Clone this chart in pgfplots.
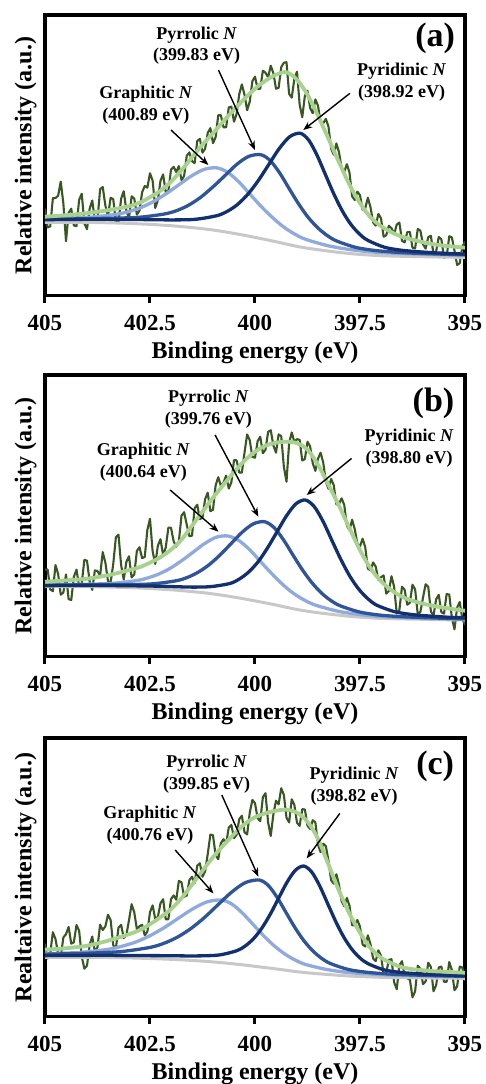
\documentclass[border=0pt]{standalone}
\usepackage{pgfplots}
\pgfplotsset{compat=1.18}
\usepackage{fontspec}
\setmainfont{Liberation Serif}
\usetikzlibrary{arrows.meta}
\definecolor{dgreen}{HTML}{385723}
\definecolor{lgreen}{HTML}{A9D18E}
\definecolor{navy}{HTML}{13306E}
\definecolor{mblue}{HTML}{2F5597}
\definecolor{lblue}{HTML}{8FAADC}
\definecolor{bggray}{HTML}{C8C8C8}
\tikzset{
  ann/.style={font=\bfseries\fontsize{18}{21.7}\selectfont, align=center},
  arr/.style={-{Stealth[length=9pt,width=7pt]}, line width=1.4pt, black},
}
\pgfplotsset{xps/.style={
  scale only axis, width=420pt,
  xmin=395, xmax=405, x dir=reverse, ymin=0,
  xtick={395,397.5,400,402.5,405},
  xticklabels={395,397.5,400,402.5,405},
  ytick=\empty, xtick pos=left, tick align=outside,
  major tick length=7pt,
  axis line style={line width=3.5pt},
  every tick/.style={black, line width=3pt},
  xticklabel style={font=\bfseries\fontsize{23}{27}\selectfont, anchor=center, yshift=-20pt},
  xlabel={Binding energy (eV)},
  xlabel style={font=\bfseries\fontsize{24}{28}\selectfont, at={(axis description cs:0.5,0)}, anchor=center, yshift=-57pt},
  ylabel style={font=\bfseries\fontsize{24}{28}\selectfont, at={(axis description cs:-0.046,0.5)}, anchor=center},
  every axis plot/.append style={line join=round},
}}
\begin{document}
\begin{tikzpicture}[x=1pt,y=1pt]
\useasboundingbox (0,0) rectangle (485,-1084);
% ---------------- (a) ----------------
\begin{axis}[xps, at={(45pt,-295.7pt)}, anchor=south west, height=280.7pt, ymax=280.7,
  ylabel={Relative intensity (a.u.)}]
\addplot[dgreen, line width=2.1pt] coordinates {(405,87) (404.9375,68.2) (404.875,69.3) (404.8125,97.5) (404.75,97.7) (404.6875,99.9) (404.625,114.1) (404.5625,92.3) (404.5,54.5) (404.4375,82.8) (404.375,87) (404.3125,70.3) (404.25,69.5) (404.1875,95.8) (404.125,102) (404.0625,72.3) (404,66.5) (403.9375,86.9) (403.875,95.2) (403.8125,75.6) (403.75,76) (403.6875,106.4) (403.625,108.7) (403.5625,90.1) (403.5,79.5) (403.4375,98) (403.375,96.5) (403.3125,73) (403.25,73.5) (403.1875,97) (403.125,104.5) (403.0625,85) (403,77.5) (402.9375,99.4) (402.875,97.2) (402.8125,81.1) (402.75,85) (402.6875,103.4) (402.625,109.7) (402.5625,108.1) (402.5,122.5) (402.4375,115.1) (402.375,87.7) (402.3125,95.4) (402.25,115) (402.1875,121.3) (402.125,103.5) (402.0625,104.8) (402,126) (401.9375,128.9) (401.875,123.7) (401.8125,129.6) (401.75,115.5) (401.6875,119.8) (401.625,140) (401.5625,143.3) (401.5,134.5) (401.4375,132.6) (401.375,154.7) (401.3125,156.9) (401.25,143) (401.1875,146.9) (401.125,162.7) (401.0625,167.6) (401,152.5) (400.9375,158.5) (400.875,180.5) (400.8125,180.5) (400.75,168.5) (400.6875,168.4) (400.625,188.2) (400.5625,189.1) (400.5,174) (400.4375,181.8) (400.375,201.5) (400.3125,211.3) (400.25,201) (400.1875,185.5) (400.125,194) (400.0625,214.5) (400,219) (399.9375,207) (399.875,207) (399.8125,225) (399.75,223) (399.6875,218.5) (399.625,230) (399.5625,222.5) (399.5,207) (399.4375,207.8) (399.375,228.5) (399.3125,233) (399.25,233.5) (399.1875,201.8) (399.125,198) (399.0625,217) (399,224) (398.9375,191.3) (398.875,178.5) (398.8125,199.8) (398.75,205) (398.6875,187.8) (398.625,182.5) (398.5625,196.3) (398.5,190) (398.4375,173.3) (398.375,172.5) (398.3125,176.8) (398.25,169) (398.1875,147) (398.125,141) (398.0625,152.3) (398,143.5) (397.9375,127.8) (397.875,124) (397.8125,131.5) (397.75,123) (397.6875,99.4) (397.625,95.7) (397.5625,104.1) (397.5,100.5) (397.4375,86) (397.375,87.5) (397.3125,98) (397.25,88.5) (397.1875,73.3) (397.125,70) (397.0625,81.8) (397,77.5) (396.9375,59) (396.875,60.5) (396.8125,70) (396.75,67.5) (396.6875,61.4) (396.625,71.2) (396.5625,73.1) (396.5,55) (396.4375,53.3) (396.375,63.5) (396.3125,63.8) (396.25,48) (396.1875,47.4) (396.125,66.7) (396.0625,65.1) (396,51.5) (395.9375,47) (395.875,58.5) (395.8125,60) (395.75,41.5) (395.6875,44.1) (395.625,58.7) (395.5625,56.4) (395.5,38) (395.4375,38.8) (395.375,59.5) (395.3125,58.3) (395.25,45) (395.1875,30.8) (395.125,32.5) (395.0625,49.3) (395,54)};
\addplot[bggray, line width=3pt, smooth] coordinates {(395,38.3) (395.5,38.6) (396,39.0) (396.5,39.4) (397,40.0) (397.25,40.6) (397.5,41.3) (397.75,42.2) (398,43.3) (398.25,44.6) (398.5,46.0) (398.75,47.5) (399,49.3) (399.25,51.6) (399.5,54.0) (399.75,56.2) (400,58.3) (400.25,60.4) (400.5,62.3) (400.75,64.1) (401,65.7) (401.25,67.0) (401.5,68.1) (401.75,69.1) (402,70.0) (402.5,71.3) (403,72.3) (403.5,72.9) (404,73.3) (405,73.3)};
\addplot[lblue, line width=3.3pt, smooth] coordinates {(395,40.6) (395.65,41.1) (396.70,42.5) (397.225,43.8) (397.75,46.2) (398.275,50.1) (398.80,56.5) (399.0625,61.8) (399.325,69.0) (399.5875,78.3) (399.85,89.1) (400.1125,101.2) (400.375,113.4) (400.6375,123.0) (400.9,127.8) (401.2,126.5) (401.5,120.1) (401.8,111.3) (402.1,102.4) (402.4,94.6) (402.7,88.4) (403.0,84.2) (403.3,81.4) (403.9,78.6) (404.5,77.3) (405,76.8)};
\addplot[mblue, line width=3.3pt, smooth] coordinates {(395,40.9) (395.36,41.3) (396.26,42.6) (396.71,43.7) (397.16,45.3) (397.61,48.4) (398.06,54.8) (398.285,60.3) (398.51,68.1) (398.735,78.4) (398.96,91.7) (399.185,107.0) (399.41,122.6) (399.635,135.0) (399.86,141.0) (400.15,139.3) (400.435,131.3) (400.72,119.9) (401.01,108.5) (401.30,98.2) (401.585,90.4) (401.87,85.0) (402.16,81.7) (402.735,78.5) (403.31,77.6) (404.46,76.7) (405,76.4)};
\addplot[navy, line width=3.3pt, smooth] coordinates {(395.0,41.6) (395.72,42.9) (396.12,44.0) (396.52,45.5) (396.92,48.5) (397.32,55.5) (397.52,62.0) (397.72,71.5) (397.92,84.7) (398.12,101.5) (398.32,120.8) (398.52,140.2) (398.72,155.5) (398.92,162.4) (399.17,159.1) (399.42,147.3) (399.67,131.3) (399.92,115.2) (400.17,101.5) (400.42,91.1) (400.67,84.1) (400.92,79.9) (401.42,76.4) (401.92,75.8) (402.42,76.0) (402.92,76.2) (403.92,76.4) (405,76.0)};
\addplot[lgreen, line width=3.8pt, smooth] coordinates {(395,48) (395.25,49) (395.5,50) (395.75,51.5) (396,53.5) (396.25,56) (396.5,59) (396.75,63.5) (397,69.5) (397.25,78.5) (397.5,92.5) (397.75,111) (398,133.5) (398.25,157) (398.5,180) (398.75,201) (399,216) (399.25,223.5) (399.5,221) (399.75,215) (400,207) (400.25,197) (400.5,186) (400.75,174.5) (401,162.5) (401.25,151) (401.5,138.5) (401.75,125.5) (402,114) (402.25,105) (402.5,98.5) (402.75,93) (403,89.5) (403.5,85.5) (404,82.5) (404.5,80.5) (405,79)};
\node[ann] at (axis cs:401.39,249.9) {Pyrrolic \textit{N}\\(399.83 eV)};
\node[ann] at (axis cs:402.6,190.7) {Graphitic \textit{N}\\(400.89 eV)};
\node[ann] at (axis cs:396.51,213.2) {Pyridinic \textit{N}\\(398.92 eV)};
\node[font=\bfseries\fontsize{34}{40}\selectfont] at (axis cs:395.71,257.4) {(a)};
\draw[arr] (axis cs:402.0,165.7) -- (axis cs:401.11,130.7);
\draw[arr] (axis cs:400.87,225.7) -- (axis cs:400.0,145.7);
\draw[arr] (axis cs:397.74,202.4) -- (axis cs:398.85,165.7);
\end{axis}
% ---------------- (b) ----------------
\begin{axis}[xps, at={(45pt,-656.7pt)}, anchor=south west, height=281.7pt, ymax=281.7,
  ylabel={Relative intensity (a.u.)}]
\addplot[dgreen, line width=2.1pt] coordinates {(405,87) (404.9375,87.2) (404.875,67.3) (404.8125,65.5) (404.75,91.6) (404.6875,82.8) (404.625,62) (404.5625,64.2) (404.5,82.3) (404.4375,57.5) (404.375,56.7) (404.3125,79.9) (404.25,87.1) (404.1875,70.3) (404.125,73.5) (404.0625,96.8) (404,96) (403.9375,75.4) (403.875,66.8) (403.8125,86.3) (403.75,85.7) (403.6875,81.2) (403.625,104.6) (403.5625,94.1) (403.5,75.5) (403.4375,74.1) (403.375,92.7) (403.3125,119.4) (403.25,122) (403.1875,91.6) (403.125,77.2) (403.0625,94.9) (403,100.5) (402.9375,79.3) (402.875,82) (402.8125,105.8) (402.75,109.5) (402.6875,98.6) (402.625,99.7) (402.5625,126.9) (402.5,138) (402.4375,105.4) (402.375,92.7) (402.3125,111.1) (402.25,117.5) (402.1875,101.4) (402.125,109.2) (402.0625,129.1) (402,129) (401.9375,115.5) (401.875,110) (401.8125,115.5) (401.75,141) (401.6875,144.5) (401.625,132) (401.5625,120.5) (401.5,121) (401.4375,148.5) (401.375,152) (401.3125,137.5) (401.25,139) (401.1875,157.5) (401.125,164) (401.0625,145.5) (401,147) (400.9375,171.3) (400.875,179.5) (400.8125,170.8) (400.75,174) (400.6875,181.1) (400.625,168.2) (400.5625,174.4) (400.5,196.5) (400.4375,196.4) (400.375,184.2) (400.3125,184.1) (400.25,204) (400.1875,222.3) (400.125,216.5) (400.0625,199.8) (400,199) (399.9375,215.5) (399.875,220) (399.8125,203.5) (399.75,207) (399.6875,224.8) (399.625,226.5) (399.5625,211.3) (399.5,204) (399.4375,222.3) (399.375,220.5) (399.3125,189.8) (399.25,175) (399.1875,213.6) (399.125,224.2) (399.0625,214.9) (399,217.5) (398.9375,216.9) (398.875,196.2) (398.8125,197.6) (398.75,215) (398.6875,210.3) (398.625,193.5) (398.5625,185.8) (398.5,198) (398.4375,204) (398.375,194) (398.3125,175) (398.25,168) (398.1875,177.8) (398.125,171.5) (398.0625,152.3) (398,153) (397.9375,158.4) (397.875,151.7) (397.8125,131.1) (397.75,126.5) (397.6875,137) (397.625,127.5) (397.5625,113) (397.5,110.5) (397.4375,118) (397.375,109.5) (397.3125,88) (397.25,86.5) (397.1875,94.3) (397.125,90) (397.0625,76.8) (397,79.5) (396.9375,81.3) (396.875,63) (396.8125,65.8) (396.75,80.5) (396.6875,69.9) (396.625,43.2) (396.5625,46.6) (396.5,70) (396.4375,67) (396.375,52) (396.3125,54) (396.25,72) (396.1875,67.3) (396.125,42.5) (396.0625,44.8) (396,59) (395.9375,72.5) (395.875,69.9) (395.8125,45.4) (395.75,40.8) (395.6875,57.4) (395.625,61.9) (395.5625,44.5) (395.5,43) (395.4375,62.6) (395.375,62.2) (395.3125,38.8) (395.25,27.4) (395.1875,49.1) (395.125,54.7) (395.0625,37.4) (395,32)};
\addplot[bggray, line width=3pt, smooth] coordinates {(395,36.7) (395.5,37.0) (396,37.4) (396.5,37.8) (397,38.3) (397.25,38.9) (397.5,39.6) (397.75,40.4) (398,41.5) (398.25,42.7) (398.5,44.0) (398.75,45.5) (399,47.2) (399.25,49.4) (399.5,51.7) (399.75,53.8) (400,55.8) (400.25,57.8) (400.5,59.6) (400.75,61.3) (401,62.8) (401.25,64.1) (401.5,65.1) (401.75,66.1) (402,66.9) (402.5,68.2) (403,69.1) (403.5,69.7) (404,70.1) (405,70.1)};
\addplot[lblue, line width=3.3pt, smooth] coordinates {(395,37.6) (395.39,37.8) (396.44,39.1) (396.965,40.1) (397.49,42.1) (398.015,45.4) (398.54,51.3) (398.8025,56.1) (399.065,62.8) (399.3275,71.7) (399.59,82.6) (399.8525,94.4) (400.115,106.5) (400.3775,116.0) (400.64,120.7) (400.915,119.6) (401.19,113.4) (401.465,104.8) (401.74,96.2) (402.015,88.5) (402.29,82.7) (402.565,78.6) (402.84,76.0) (403.39,73.4) (403.94,72.6) (405,71.6)};
\addplot[mblue, line width=3.3pt, smooth] coordinates {(395,37.9) (395.27,38.1) (396.17,39.4) (396.62,40.3) (397.07,41.8) (397.52,44.8) (397.97,50.9) (398.195,56.2) (398.42,63.8) (398.645,74.0) (398.87,86.8) (399.095,101.6) (399.32,116.8) (399.545,129.1) (399.77,135.0) (400.0325,133.0) (400.295,124.9) (400.5575,113.6) (400.82,102.2) (401.0825,92.3) (401.345,84.7) (401.6075,79.3) (401.87,76.0) (402.395,73.0) (402.92,72.2) (403.97,72.0) (405,71.4)};
\addplot[navy, line width=3.3pt, smooth] coordinates {(395,38.9) (395.4,39.5) (395.825,40.6) (396.25,42.1) (396.675,45.0) (397.1,51.5) (397.3125,58.0) (397.525,67.3) (397.7375,80.2) (397.95,96.8) (398.1625,115.7) (398.375,134.9) (398.5875,150.0) (398.8,156.7) (399.025,152.9) (399.25,140.9) (399.475,124.9) (399.7,108.9) (399.925,95.0) (400.15,84.7) (400.375,77.6) (400.6,73.2) (401.05,70.1) (401.5,69.6) (401.95,70.1) (402.4,70.6) (403.3,71.1) (404.2,71.3) (405,71.0)};
\addplot[lgreen, line width=3.8pt, smooth] coordinates {(395,46) (395.25,47.4) (395.5,49) (395.75,50.8) (396,53) (396.25,56) (396.5,60) (396.75,66.5) (397,75.5) (397.25,88.5) (397.5,106.5) (397.75,128.5) (398,151) (398.25,172) (398.5,192) (398.75,207) (399,213.5) (399.25,215) (399.5,214) (399.75,211) (400,205) (400.25,196) (400.5,184.5) (400.75,172) (401,159) (401.25,145) (401.5,131) (401.75,117) (402,107) (402.25,99.5) (402.5,94) (402.75,89.5) (403,86.5) (403.5,81.5) (404,78) (404.5,76.3) (405,75)};
\node[ann] at (axis cs:401.11,247.5) {Pyrrolic \textit{N}\\(399.76 eV)};
\node[ann] at (axis cs:402.66,194.2) {Graphitic \textit{N}\\(400.64 eV)};
\node[ann] at (axis cs:396.33,208.8) {Pyridinic \textit{N}\\(398.80 eV)};
\node[font=\bfseries\fontsize{34}{40}\selectfont] at (axis cs:395.75,253.3) {(b)};
\draw[arr] (axis cs:402.02,166.7) -- (axis cs:400.87,125);
\draw[arr] (axis cs:400.95,221.7) -- (axis cs:399.92,140);
\draw[arr] (axis cs:397.70,198.3) -- (axis cs:398.77,161.7);
\end{axis}
% ---------------- (c) ----------------
\begin{axis}[xps, at={(45pt,-1016.7pt)}, anchor=south west, height=278.7pt, ymax=278.7,
  ylabel={Realtaive intensity (a.u.)}]
\addplot[dgreen, line width=2.1pt] coordinates {(405,73) (404.9375,58.2) (404.875,63.3) (404.8125,84.5) (404.75,77.7) (404.6875,62.9) (404.625,60.1) (404.5625,79.3) (404.5,82.5) (404.4375,89.8) (404.375,73.1) (404.3125,74.4) (404.25,91.7) (404.1875,86) (404.125,60.3) (404.0625,48) (404,51) (403.9375,71.6) (403.875,80.2) (403.8125,64.9) (403.75,69.5) (403.6875,92.1) (403.625,86.7) (403.5625,90.4) (403.5,102) (403.4375,96.8) (403.375,71.5) (403.3125,68.3) (403.25,89) (403.1875,91.9) (403.125,78.7) (403.0625,81.6) (403,96.5) (402.9375,112.5) (402.875,104.5) (402.8125,87.5) (402.75,90.5) (402.6875,92) (402.625,81.5) (402.5625,85) (402.5,104.5) (402.4375,111.3) (402.375,98) (402.3125,99.8) (402.25,113.5) (402.1875,117.5) (402.125,97.5) (402.0625,97.5) (402,117.5) (401.9375,121.3) (401.875,117) (401.8125,135.8) (401.75,134.5) (401.6875,119.9) (401.625,121.2) (401.5625,136.6) (401.5,140) (401.4375,133.5) (401.375,151) (401.3125,153.5) (401.25,140) (401.1875,145.4) (401.125,162.7) (401.0625,182.1) (401,181.5) (400.9375,161.5) (400.875,157.5) (400.8125,173.5) (400.75,177.5) (400.6875,173.3) (400.625,189) (400.5625,191.8) (400.5,178.5) (400.4375,182) (400.375,197.5) (400.3125,201) (400.25,184.5) (400.1875,182.3) (400.125,204) (400.0625,216.8) (400,213.5) (399.9375,198.5) (399.875,195.5) (399.8125,219.5) (399.75,223.5) (399.6875,194.1) (399.625,180.7) (399.5625,202.4) (399.5,216) (399.4375,212.3) (399.375,228.5) (399.3125,221.8) (399.25,199) (399.1875,194.3) (399.125,217.5) (399.0625,211.8) (399,194) (398.9375,190.8) (398.875,207.5) (398.8125,207.3) (398.75,191) (398.6875,187.8) (398.625,196.5) (398.5625,194.3) (398.5,172) (398.4375,164.5) (398.375,173) (398.3125,170.5) (398.25,156) (398.1875,136.5) (398.125,133) (398.0625,142.5) (398,132) (397.9375,115.3) (397.875,110.5) (397.8125,118.8) (397.75,111) (397.6875,91.3) (397.625,91.5) (397.5625,96.8) (397.5,90) (397.4375,72.1) (397.375,70.2) (397.3125,81.4) (397.25,72.5) (397.1875,58.1) (397.125,55.7) (397.0625,66.4) (397,61) (396.9375,42.6) (396.875,44.2) (396.8125,56.9) (396.75,57.5) (396.6875,34.5) (396.625,27.5) (396.5625,51.5) (396.5,55.5) (396.4375,41) (396.375,38.5) (396.3125,37) (396.25,19.5) (396.1875,25.3) (396.125,51) (396.0625,47.8) (396,32.5) (395.9375,35.3) (395.875,54) (395.8125,49.8) (395.75,25.5) (395.6875,31.4) (395.625,49.2) (395.5625,50.1) (395.5,35) (395.4375,34.9) (395.375,54.7) (395.3125,46.6) (395.25,26.5) (395.1875,30.4) (395.125,50.2) (395.0625,49.1) (395,36)};
\addplot[bggray, line width=3pt, smooth] coordinates {(395,38.4) (395.5,38.6) (396,38.8) (396.5,39.1) (397,39.4) (397.25,39.8) (397.5,40.2) (397.75,40.7) (398,41.4) (398.25,42.2) (398.5,43.0) (398.75,43.9) (399,45.0) (399.25,46.4) (399.5,47.8) (399.75,49.1) (400,50.4) (400.25,51.7) (400.5,52.8) (400.75,53.9) (401,54.8) (401.25,55.6) (401.5,56.3) (401.75,56.9) (402,57.4) (402.5,58.2) (403,58.8) (403.5,59.2) (404,59.4) (405,59.4)};
\addplot[lblue, line width=3.3pt, smooth] coordinates {(395,40.2) (395.8,40.6) (396.8,41.7) (397.3,42.8) (397.8,44.3) (398.3,47.3) (398.8,52.3) (399.05,56.8) (399.3,63.0) (399.55,71.2) (399.8,81.2) (400.05,92.5) (400.3,103.7) (400.55,112.6) (400.8,116.7) (401.1375,114.9) (401.475,108.0) (401.8125,98.8) (402.15,89.4) (402.4875,81.3) (402.825,74.9) (403.1625,70.5) (403.5,67.4) (404.175,64.3) (405,63.0)};
\addplot[mblue, line width=3.3pt, smooth] coordinates {(395,40.4) (395.65,41.0) (396.5,42.1) (396.925,43.0) (397.35,44.5) (397.775,47.2) (398.2,53.1) (398.4125,58.3) (398.625,65.9) (398.8375,76.1) (399.05,89.2) (399.2625,104.3) (399.475,119.5) (399.6875,131.4) (399.9,136.7) (400.225,134.2) (400.55,124.8) (400.875,112.2) (401.2,99.3) (401.525,88.2) (401.85,79.5) (402.175,73.3) (402.5,69.3) (403.15,65.3) (403.8,63.8) (404.45,63.0) (405,62.5)};
\addplot[navy, line width=3.3pt, smooth] coordinates {(395,41.0) (395.80,42.2) (396.18,43.1) (396.56,44.4) (396.94,47.0) (397.32,53.3) (397.51,59.1) (397.70,67.8) (397.89,79.9) (398.08,95.4) (398.27,113.1) (398.46,130.9) (398.65,144.7) (398.84,150.7) (399.04,146.4) (399.24,134.3) (399.44,118.3) (399.64,102.2) (399.84,88.4) (400.04,77.8) (400.24,70.5) (400.44,65.9) (400.84,61.8) (401.24,60.9) (401.64,60.8) (402.04,61.0) (402.84,61.2) (403.64,61.4) (405,61.1)};
\addplot[lgreen, line width=3.8pt, smooth] coordinates {(395,44) (395.25,44.5) (395.5,45) (395.75,45.5) (396,46.5) (396.25,47.5) (396.5,49.5) (396.75,53.5) (397,59) (397.25,68.5) (397.5,84) (397.75,103) (398,126) (398.25,152) (398.5,178) (398.75,195) (399,204) (399.25,207) (399.5,206) (399.75,203.5) (400,199.5) (400.25,192.5) (400.5,182.5) (400.75,171.5) (401,159.5) (401.25,146) (401.5,132) (401.75,118.5) (402,107.5) (402.25,99.5) (402.5,92.5) (402.75,86.5) (403,82.5) (403.5,76) (404,71) (404.5,68.5) (405,67)};
\node[ann] at (axis cs:401.15,242.5) {Pyrrolic \textit{N}\\(399.85 eV)};
\node[ann] at (axis cs:402.5,191.7) {Graphitic \textit{N}\\(400.76 eV)};
\node[ann] at (axis cs:397.64,230.8) {Pyridinic \textit{N}\\(398.82 eV)};
\node[font=\bfseries\fontsize{34}{40}\selectfont] at (axis cs:395.71,250) {(c)};
\draw[arr] (axis cs:401.9,166.7) -- (axis cs:400.99,123.3);
\draw[arr] (axis cs:400.79,221.7) -- (axis cs:399.92,140);
\draw[arr] (axis cs:397.98,203.3) -- (axis cs:398.77,158.3);
\end{axis}
\end{tikzpicture}
\end{document}
